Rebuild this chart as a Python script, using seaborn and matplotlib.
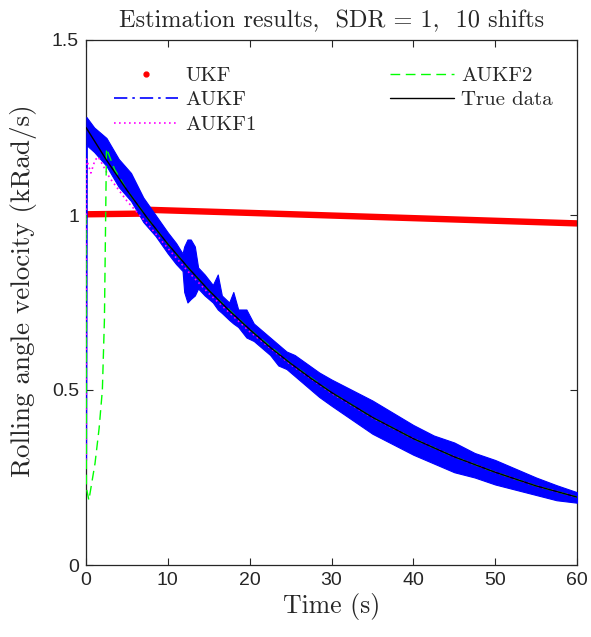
import numpy as np
import pandas as pd
import matplotlib
matplotlib.use("Agg")
import matplotlib.pyplot as plt
from matplotlib.lines import Line2D
import seaborn as sns

# ---------------- data ----------------
true_t = [0, 2.5, 5, 7.5, 10, 12.5, 15, 17.5, 20, 22.5, 25, 27.5, 30,
          35, 40, 45, 50, 55, 60]
true_y = [1.25, 1.157, 1.071, 0.991, 0.917, 0.849, 0.785, 0.727, 0.673, 0.622,
          0.576, 0.533, 0.493, 0.422, 0.361, 0.309, 0.265, 0.226, 0.194]

ukf_t = [0, 7.0, 7.4, 20, 40, 60]
ukf_y = [1.002, 1.004, 1.015, 1.006, 0.991, 0.976]

aukf_t = [0.0, 0.05, 1.0, 2.5, 4.0, 5.5, 7.0, 8.5, 10.0, 11.0, 11.8, 12.0,
          12.4, 12.8, 13.3, 13.7, 14.5, 15.5, 16.1, 16.6, 17.5, 18.0, 18.6,
          19.6, 20.5, 21.5, 22.5, 23.5, 24.5, 25.5, 27.0, 28.5, 30.0, 32.5,
          35.0, 37.5, 40.0, 42.5, 45.0, 47.5, 50.0, 52.5, 55.0, 57.5, 60.0]
aukf_lo = [0.30, 1.20, 1.18, 1.14, 1.08, 1.04, 0.98, 0.94, 0.89, 0.86, 0.84,
           0.78, 0.75, 0.76, 0.77, 0.79, 0.77, 0.75, 0.73, 0.72, 0.70, 0.69,
           0.68, 0.65, 0.64, 0.62, 0.60, 0.57, 0.56, 0.54, 0.51, 0.48, 0.455,
           0.415, 0.375, 0.345, 0.315, 0.29, 0.265, 0.25, 0.23, 0.215, 0.20,
           0.185, 0.178]
aukf_hi = [0.30, 1.28, 1.25, 1.22, 1.16, 1.12, 1.05, 1.00, 0.95, 0.92, 0.89,
           0.91, 0.93, 0.93, 0.91, 0.85, 0.83, 0.80, 0.83, 0.77, 0.75, 0.78,
           0.73, 0.73, 0.69, 0.67, 0.65, 0.63, 0.61, 0.60, 0.575, 0.55, 0.53,
           0.50, 0.47, 0.435, 0.40, 0.37, 0.35, 0.32, 0.30, 0.275, 0.25, 0.228,
           0.208]

aukf1_t = [0, 0.05, 0.6, 1.1, 1.5, 2.9, 5, 7.5, 10, 12.5, 15, 20, 25, 30,
           35, 40, 45, 50, 55, 60]
aukf1_y = [0.30, 1.16, 1.12, 1.157, 1.166, 1.106, 1.04, 0.975, 0.905, 0.838,
           0.776, 0.667, 0.573, 0.491, 0.421, 0.361, 0.309, 0.265, 0.226,
           0.194]

aukf2_t = [0, 0.05, 0.35, 1.1, 1.6, 2.0, 2.25, 2.4, 2.5, 3.5, 5, 7.5, 10,
           12.5, 15, 20, 25, 30, 35, 40, 45, 50, 55, 60]
aukf2_y = [1.0, 0.22, 0.185, 0.29, 0.39, 0.50, 0.70, 0.99, 1.19, 1.13, 1.071,
           0.991, 0.917, 0.849, 0.785, 0.673, 0.576, 0.493, 0.422, 0.361,
           0.309, 0.265, 0.226, 0.194]

x_ticks = [0, 10, 20, 30, 40, 50, 60]
y_ticks = [0, 0.5, 1, 1.5]
y_tick_labels = ["0", "0.5", "1", "1.5"]

# ---------------- style ----------------
sns.set_theme(style="ticks")
plt.rcParams["font.family"] = ["cmr10", "DejaVu Serif"]
plt.rcParams["axes.formatter.use_mathtext"] = True
plt.rcParams["mathtext.fontset"] = "cm"

fig = plt.figure(figsize=(5.91, 6.37), dpi=100)
ax = fig.add_axes([86 / 591, 72 / 637, 491 / 591, 525 / 637])

edge = "#262626"

# UKF (thick dotted trace)
sns.lineplot(x=ukf_t, y=ukf_y, ax=ax, color="#FF0000", linewidth=4.6,
             estimator=None, zorder=2, solid_capstyle="round")

# AUKF (noisy band)
ax.fill_between(aukf_t, aukf_lo, aukf_hi, color="#0000FF", linewidth=0.8,
                edgecolor="#0000FF", zorder=3)

# AUKF1
sns.lineplot(x=aukf1_t, y=aukf1_y, ax=ax, color="#FF00FF", linewidth=1.2,
             linestyle=(0, (1, 2)), estimator=None, zorder=4)
# AUKF2
sns.lineplot(x=aukf2_t, y=aukf2_y, ax=ax, color="#00FF00", linewidth=1.0,
             linestyle=(0, (7, 4)), estimator=None, zorder=5, sort=False)
# True data
sns.lineplot(x=true_t, y=true_y, ax=ax, color="black", linewidth=1.0,
             estimator=None, zorder=6)

ax.set_xlim(0, 60)
ax.set_ylim(0, 1.5)
ax.set_xticks(x_ticks)
ax.set_yticks(y_ticks)
ax.set_yticklabels(y_tick_labels)
ax.set_xticklabels([str(v) for v in x_ticks])
for lab in ax.get_xticklabels() + ax.get_yticklabels():
    lab.set_fontfamily("Liberation Sans")
    lab.set_fontsize(14)
    lab.set_color("#262626")

ax.tick_params(direction="in", length=5, width=0.8, color=edge,
               top=True, right=True, pad=5)
for s in ax.spines.values():
    s.set_visible(True)
    s.set_color(edge)
    s.set_linewidth(0.9)

ax.set_xlabel("Time (s)", fontsize=18.5, labelpad=3)
ax.set_ylabel("Rolling angle velocity (kRad/s)", fontsize=19.5)
ax.yaxis.set_label_coords(-0.1, 0.522)
ax.set_title("Estimation results,  SDR = 1,  10 shifts", fontsize=17.5, pad=9)

handles = [
    Line2D([], [], color="#FF0000", marker=".", linestyle="none", markersize=7),
    Line2D([], [], color="#0000FF", linestyle=(0, (8, 3, 1.5, 3)), linewidth=1.2),
    Line2D([], [], color="#FF00FF", linestyle=(0, (1, 2)), linewidth=1.2),
    Line2D([], [], color="#00FF00", linestyle=(0, (7, 4)), linewidth=1.0),
    Line2D([], [], color="black", linewidth=1.0),
]
labels = ["UKF", "AUKF", "AUKF1", "AUKF2", "True data"]
ax.legend(handles, labels, ncol=2, frameon=False, fontsize=15,
          loc="upper left", bbox_to_anchor=(0.057, 0.95), borderaxespad=0,
          borderpad=0, handlelength=3.08, handletextpad=0.34,
          columnspacing=6.4, labelspacing=0.29)

fig.savefig("out.png", dpi=100)
